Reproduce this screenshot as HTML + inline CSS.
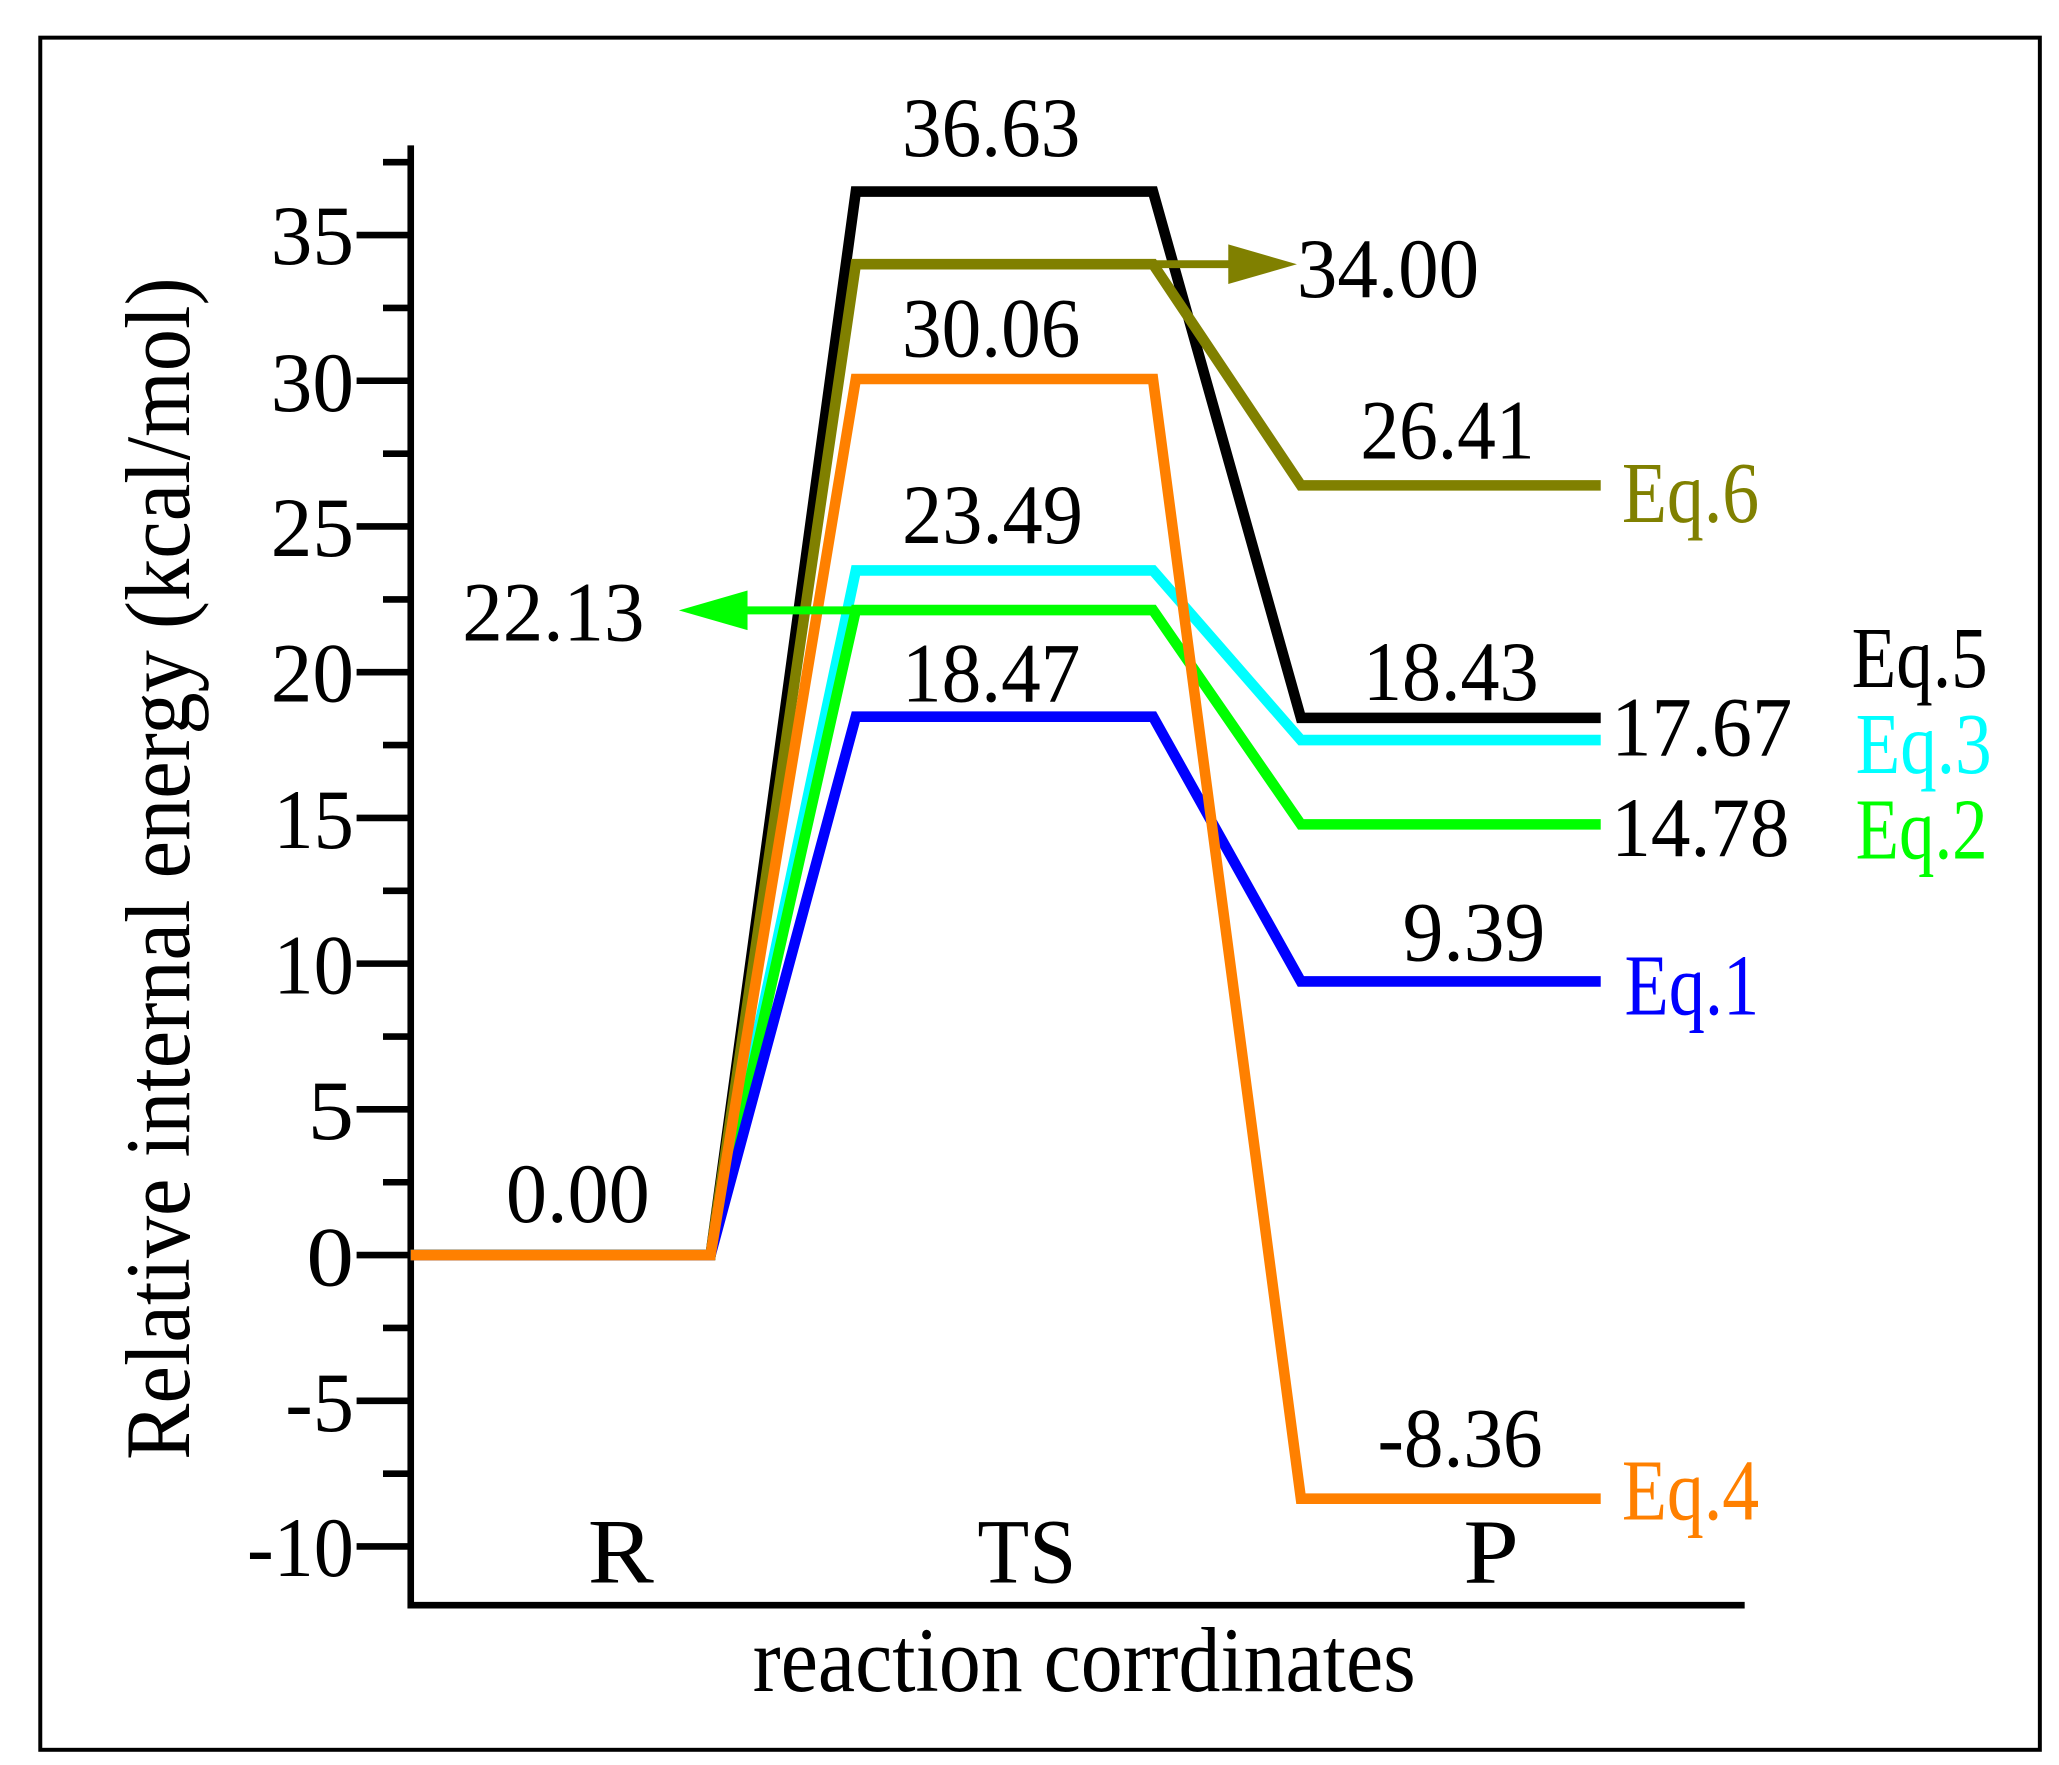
<!DOCTYPE html>
<html><head><meta charset="utf-8"><style>
html,body{margin:0;padding:0;background:#fff;width:2059px;height:1765px;overflow:hidden}
svg{display:block}
text{font-family:"Liberation Serif",serif;}
</style></head><body>
<svg width="2059" height="1765" viewBox="0 0 1559 1336" preserveAspectRatio="none" xmlns="http://www.w3.org/2000/svg">
<rect x="0" y="0" width="1559" height="1336" fill="#fff"/>
<rect x="30.5" y="28.5" width="1514" height="1296" fill="none" stroke="#000" stroke-width="3"/>
<path d="M311 110 V1215 H1321" fill="none" stroke="#000" stroke-width="5"/>
<g stroke="#000" stroke-width="5">
<line x1="270" x2="311" y1="1170.6" y2="1170.6"/>
<line x1="270" x2="311" y1="1060.3" y2="1060.3"/>
<line x1="270" x2="311" y1="950" y2="950"/>
<line x1="270" x2="311" y1="839.7" y2="839.7"/>
<line x1="270" x2="311" y1="729.4" y2="729.4"/>
<line x1="270" x2="311" y1="619.1" y2="619.1"/>
<line x1="270" x2="311" y1="508.8" y2="508.8"/>
<line x1="270" x2="311" y1="398.5" y2="398.5"/>
<line x1="270" x2="311" y1="288.2" y2="288.2"/>
<line x1="270" x2="311" y1="177.9" y2="177.9"/>
<line x1="290" x2="311" y1="1115.5" y2="1115.5"/>
<line x1="290" x2="311" y1="1005.2" y2="1005.2"/>
<line x1="290" x2="311" y1="894.9" y2="894.9"/>
<line x1="290" x2="311" y1="784.6" y2="784.6"/>
<line x1="290" x2="311" y1="674.3" y2="674.3"/>
<line x1="290" x2="311" y1="564" y2="564"/>
<line x1="290" x2="311" y1="453.7" y2="453.7"/>
<line x1="290" x2="311" y1="343.4" y2="343.4"/>
<line x1="290" x2="311" y1="233.1" y2="233.1"/>
<line x1="290" x2="311" y1="122.8" y2="122.8"/>
</g>
<g font-size="64" text-anchor="end" fill="#000">
<text x="268" y="1193" textLength="81" lengthAdjust="spacingAndGlyphs">-10</text>
<text x="268" y="1083" textLength="52" lengthAdjust="spacingAndGlyphs">-5</text>
<text x="268" y="973" textLength="36" lengthAdjust="spacingAndGlyphs">0</text>
<text x="268" y="862" textLength="35" lengthAdjust="spacingAndGlyphs">5</text>
<text x="268" y="752" textLength="61" lengthAdjust="spacingAndGlyphs">10</text>
<text x="268" y="642" textLength="61" lengthAdjust="spacingAndGlyphs">15</text>
<text x="268" y="531" textLength="63" lengthAdjust="spacingAndGlyphs">20</text>
<text x="268" y="421" textLength="63" lengthAdjust="spacingAndGlyphs">25</text>
<text x="268" y="311" textLength="63" lengthAdjust="spacingAndGlyphs">30</text>
<text x="268" y="200" textLength="63" lengthAdjust="spacingAndGlyphs">35</text>
</g>
<g fill="none" stroke-width="8" stroke-linejoin="miter">
<polyline stroke="#000" points="311,950 538,950 648,145 873,145 985,543.4 1212,543.4"/>
<polyline stroke="#808000" points="311,950 538,950 648,200 873,200 985,367.4 1212,367.4"/>
<polyline stroke="#00FFFF" points="311,950 538,950 648,431.8 873,431.8 985,560.2 1212,560.2"/>
<polyline stroke="#00FF00" points="311,950 538,950 648,461.8 873,461.8 985,624 1212,624"/>
<polyline stroke="#0000FF" points="311,950 538,950 648,542.5 873,542.5 985,742.9 1212,742.9"/>
<polyline stroke="#FF8000" points="311,950 538,950 648,286.9 873,286.9 985,1134.4 1212,1134.4"/>
</g>
<line x1="873" y1="200" x2="935" y2="200" stroke="#808000" stroke-width="6"/>
<polygon points="930,185 982,200 930,215" fill="#808000"/>
<line x1="560" y1="462" x2="648" y2="462" stroke="#00FF00" stroke-width="6"/>
<polygon points="566,447 514,462 566,477" fill="#00FF00"/>
<g font-size="64" fill="#000">
<text x="683" y="118" textLength="135" lengthAdjust="spacingAndGlyphs">36.63</text>
<text x="683" y="270" textLength="135" lengthAdjust="spacingAndGlyphs">30.06</text>
<text x="683" y="411" textLength="137" lengthAdjust="spacingAndGlyphs">23.49</text>
<text x="683" y="531" textLength="135" lengthAdjust="spacingAndGlyphs">18.47</text>
<text x="982" y="225" textLength="138" lengthAdjust="spacingAndGlyphs">34.00</text>
<text x="350" y="485" textLength="138" lengthAdjust="spacingAndGlyphs">22.13</text>
<text x="1030" y="347" textLength="132" lengthAdjust="spacingAndGlyphs">26.41</text>
<text x="1032" y="530" textLength="133" lengthAdjust="spacingAndGlyphs">18.43</text>
<text x="1220" y="572" textLength="137" lengthAdjust="spacingAndGlyphs">17.67</text>
<text x="1220" y="648" textLength="135" lengthAdjust="spacingAndGlyphs">14.78</text>
<text x="1062" y="727" textLength="108" lengthAdjust="spacingAndGlyphs">9.39</text>
<text x="1043" y="1110" textLength="125" lengthAdjust="spacingAndGlyphs">-8.36</text>
<text x="383" y="925" textLength="109" lengthAdjust="spacingAndGlyphs">0.00</text>
</g>
<g font-size="66">
<text x="1228" y="395" fill="#808000" textLength="104" lengthAdjust="spacingAndGlyphs">Eq.6</text>
<text x="1402" y="520" fill="#000" textLength="103" lengthAdjust="spacingAndGlyphs">Eq.5</text>
<text x="1405" y="585" fill="#00FFFF" textLength="103" lengthAdjust="spacingAndGlyphs">Eq.3</text>
<text x="1405" y="650" fill="#00FF00" textLength="100" lengthAdjust="spacingAndGlyphs">Eq.2</text>
<text x="1230" y="768" fill="#0000FF" textLength="102" lengthAdjust="spacingAndGlyphs">Eq.1</text>
<text x="1228" y="1150" fill="#FF8000" textLength="104" lengthAdjust="spacingAndGlyphs">Eq.4</text>
</g>
<g font-size="70" fill="#000">
<text x="445" y="1198" textLength="50" lengthAdjust="spacingAndGlyphs">R</text>
<text x="740" y="1198" textLength="75" lengthAdjust="spacingAndGlyphs">TS</text>
<text x="1108" y="1198" textLength="42" lengthAdjust="spacingAndGlyphs">P</text>
<text x="570" y="1280" textLength="502" lengthAdjust="spacingAndGlyphs">reaction corrdinates</text>
<text transform="translate(143,1105) rotate(-90)" x="0" y="0" textLength="895" lengthAdjust="spacingAndGlyphs">Relative internal energy (kcal/mol)</text>
</g>
</svg>
</body></html>
